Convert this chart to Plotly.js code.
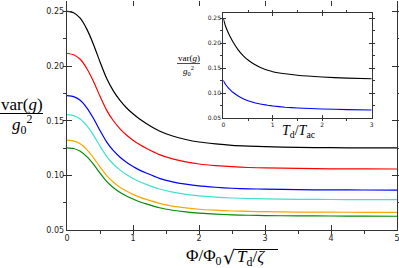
<!DOCTYPE html>
<html>
<head>
<meta charset="utf-8">
<script src="https://cdn.plot.ly/plotly-3.0.1.min.js"></script>
<style>html,body{margin:0;padding:0;background:#fff;}#plot{width:399px;height:268px;}</style>
</head>
<body>
<div id="plot"></div>
<script>
// ---- data ----
const xMain = [0, 0.1, 0.2, 0.3, 0.4, 0.5, 0.6, 0.7, 0.8, 0.9, 1.0, 1.1, 1.2, 1.4, 1.6, 1.8, 2.0, 2.25, 2.5, 2.75, 3.0, 3.5, 4.0, 4.5, 5.0];
const blackMain  = [0.2500, 0.2488, 0.2438, 0.2338, 0.2200, 0.2038, 0.1888, 0.1775, 0.1688, 0.1619, 0.1563, 0.1515, 0.1475, 0.1406, 0.1360, 0.1328, 0.1305, 0.1288, 0.1275, 0.1268, 0.1263, 0.1256, 0.1253, 0.1251, 0.1251];
const redMain    = [0.2115, 0.2104, 0.2062, 0.1978, 0.1861, 0.1724, 0.1597, 0.1502, 0.1428, 0.1369, 0.1322, 0.1282, 0.1248, 0.1190, 0.1151, 0.1123, 0.1104, 0.1089, 0.1079, 0.1072, 0.1068, 0.1063, 0.1060, 0.1059, 0.1058];
const blueMain   = [0.1730, 0.1721, 0.1687, 0.1618, 0.1522, 0.1410, 0.1306, 0.1228, 0.1168, 0.1120, 0.1081, 0.1048, 0.1021, 0.0973, 0.0941, 0.0919, 0.0903, 0.0891, 0.0882, 0.0877, 0.0874, 0.0869, 0.0867, 0.0866, 0.0865];
const cyanMain   = [0.1555, 0.1547, 0.1516, 0.1454, 0.1368, 0.1267, 0.1174, 0.1104, 0.1050, 0.1007, 0.0972, 0.0942, 0.0917, 0.0875, 0.0846, 0.0826, 0.0812, 0.0801, 0.0793, 0.0788, 0.0785, 0.0781, 0.0779, 0.0778, 0.0778];
const orangeMain = [0.1322, 0.1315, 0.1289, 0.1236, 0.1163, 0.1077, 0.0998, 0.0939, 0.0892, 0.0856, 0.0826, 0.0801, 0.0780, 0.0744, 0.0719, 0.0702, 0.0690, 0.0681, 0.0674, 0.0670, 0.0668, 0.0664, 0.0663, 0.0662, 0.0661];
const greenMain  = [0.1252, 0.1246, 0.1221, 0.1171, 0.1102, 0.1020, 0.0945, 0.0889, 0.0845, 0.0811, 0.0783, 0.0759, 0.0739, 0.0704, 0.0681, 0.0665, 0.0654, 0.0645, 0.0639, 0.0635, 0.0632, 0.0629, 0.0628, 0.0627, 0.0626];

const xInset = [0, 0.025, 0.05, 0.1, 0.15, 0.2, 0.3, 0.4, 0.5, 0.6, 0.7, 0.8, 0.9, 1.0, 1.25, 1.5, 2.0, 2.5, 3.0];
const blackInset = [0.250, 0.241, 0.233, 0.221, 0.211, 0.202, 0.187, 0.1755, 0.1665, 0.1595, 0.1540, 0.1495, 0.1460, 0.1432, 0.1390, 0.1360, 0.1325, 0.1303, 0.1290];
const blueInset  = [0.126, 0.121, 0.117, 0.111, 0.106, 0.1015, 0.0945, 0.0893, 0.0853, 0.0822, 0.0797, 0.0777, 0.0760, 0.0747, 0.0722, 0.0706, 0.0686, 0.0674, 0.0667];

const mainTickVals = [0, 1, 2, 3, 4, 5];
const yTickVals = [0.05, 0.10, 0.15, 0.20, 0.25];
const yTickText = ['0.05', '0.10', '0.15', '0.20', '0.25'];
const insetTickVals = [0, 1, 2, 3];

// ---- layout helpers ----
const W = 399, H = 268;
const px = v => v / W;
const py = v => 1 - v / H;
const tickFont = {family: 'DejaVu Sans, sans-serif', size: 8, color: '#222'};
const insetTickFont = {family: 'DejaVu Sans, sans-serif', size: 6, color: '#222'};
const serif = 'Liberation Serif, DejaVu Serif, serif';

const mainSeries = [
  [blackMain, '#000000'], [redMain, '#ff0000'], [blueMain, '#0000ff'],
  [cyanMain, '#40e0d0'], [orangeMain, '#ffa500'], [greenMain, '#008c00']
];
const traces = mainSeries.map(([ys, c]) => ({
  x: xMain, y: ys, type: 'scatter', mode: 'lines',
  line: {color: c, width: 1.2, shape: 'spline', smoothing: 0.6},
  xaxis: 'x', yaxis: 'y', hoverinfo: 'skip', showlegend: false
}));
traces.push({x: xInset, y: blackInset, type: 'scatter', mode: 'lines',
  line: {color: '#000000', width: 1.1, shape: 'spline', smoothing: 0.5}, xaxis: 'x2', yaxis: 'y2', showlegend: false});
traces.push({x: xInset, y: blueInset, type: 'scatter', mode: 'lines',
  line: {color: '#0000ff', width: 1.1, shape: 'spline', smoothing: 0.5}, xaxis: 'x2', yaxis: 'y2', showlegend: false});

const axCommon = {showgrid: false, zeroline: false, showline: true, linecolor: '#333', linewidth: 1.3,
  ticks: 'inside', mirror: 'ticks', tickcolor: '#333', tickwidth: 1, ticklabeloverflow: 'allow'};

const layout = {
  width: W, height: H, margin: {l: 0, r: 0, t: 0, b: 0},
  paper_bgcolor: '#fff', plot_bgcolor: 'rgba(0,0,0,0)', showlegend: false,
  xaxis: Object.assign({}, axCommon, {domain: [px(67), px(397)], range: [0, 5], tickvals: mainTickVals,
    ticklen: 5, tickfont: tickFont, minor: {dtick: 0.5, ticklen: 3, tickcolor: '#333'}, anchor: 'y'}),
  yaxis: Object.assign({}, axCommon, {domain: [py(230), py(0.5)], range: [0.05, 0.26], tickvals: yTickVals, ticktext: yTickText,
    ticklen: 5, tickfont: tickFont, minor: {dtick: 0.025, tick0: 0.05, ticklen: 3, tickcolor: '#333'}, anchor: 'x'}),
  xaxis2: Object.assign({}, axCommon, {domain: [px(223.3), px(371.7)], range: [0, 3], tickvals: insetTickVals,
    ticklen: 3, tickfont: insetTickFont, minor: {dtick: 0.5, ticklen: 2, tickcolor: '#333'}, anchor: 'y2', linewidth: 1.1}),
  yaxis2: Object.assign({}, axCommon, {domain: [py(118.3), py(13.3)], range: [0.05, 0.26], tickvals: yTickVals, ticktext: yTickText,
    ticklen: 3, tickfont: insetTickFont, minor: {dtick: 0.025, tick0: 0.05, ticklen: 2, tickcolor: '#333'}, anchor: 'x2', linewidth: 1.1}),
  shapes: [
    {type: 'line', xref: 'paper', yref: 'paper', x0: px(0), x1: px(43), y0: py(113.5), y1: py(113.5), line: {color: '#000', width: 1}},
    {type: 'line', xref: 'paper', yref: 'paper', x0: px(177), x1: px(200), y0: py(63.5), y1: py(63.5), line: {color: '#000', width: 0.7}},
    {type: 'line', xref: 'paper', yref: 'paper', x0: px(235), x1: px(278), y0: py(249.5), y1: py(249.5), line: {color: '#000', width: 1}}
  ],
  annotations: [
    {xref: 'paper', yref: 'paper', x: px(21.5), y: py(104), text: 'var(<i>g</i>)', showarrow: false,
      font: {family: serif, size: 17, color: '#000'}, xanchor: 'center', yanchor: 'middle'},
    {xref: 'paper', yref: 'paper', x: px(21.5), y: py(124), text: '<i>g</i><sub>0</sub><sup>2</sup>', showarrow: false,
      font: {family: serif, size: 17, color: '#000'}, xanchor: 'center', yanchor: 'middle'},
    {xref: 'paper', yref: 'paper', x: px(188.5), y: py(57.5), text: 'var(<i>g</i>)', showarrow: false,
      font: {family: serif, size: 9, color: '#000'}, xanchor: 'center', yanchor: 'middle'},
    {xref: 'paper', yref: 'paper', x: px(188.5), y: py(70), text: '<i>g</i><sub>0</sub><sup>2</sup>', showarrow: false,
      font: {family: serif, size: 9, color: '#000'}, xanchor: 'center', yanchor: 'middle'},
    {xref: 'paper', yref: 'paper', x: px(299), y: py(131), text: '<i>T</i><sub>d</sub>/<i>T</i><sub>ac</sub>', showarrow: false,
      font: {family: serif, size: 14, color: '#000'}, xanchor: 'center', yanchor: 'middle'},
    {xref: 'paper', yref: 'paper', x: px(224), y: py(257), text: 'Φ/Φ<sub>0</sub>', showarrow: false,
      font: {family: serif, size: 17, color: '#000'}, xanchor: 'right', yanchor: 'middle'},
    {xref: 'paper', yref: 'paper', x: px(229), y: py(257), text: '√', showarrow: false,
      font: {family: 'DejaVu Serif, serif', size: 19, color: '#000'}, xanchor: 'center', yanchor: 'middle'},
    {xref: 'paper', yref: 'paper', x: px(235), y: py(258), text: '<i>T</i><sub>d</sub>/<i>ζ</i>', showarrow: false,
      font: {family: serif, size: 17, color: '#000'}, xanchor: 'left', yanchor: 'middle'}
  ]
};

Plotly.newPlot('plot', traces, layout, {staticPlot: true, displayModeBar: false});
</script>
</body>
</html>
